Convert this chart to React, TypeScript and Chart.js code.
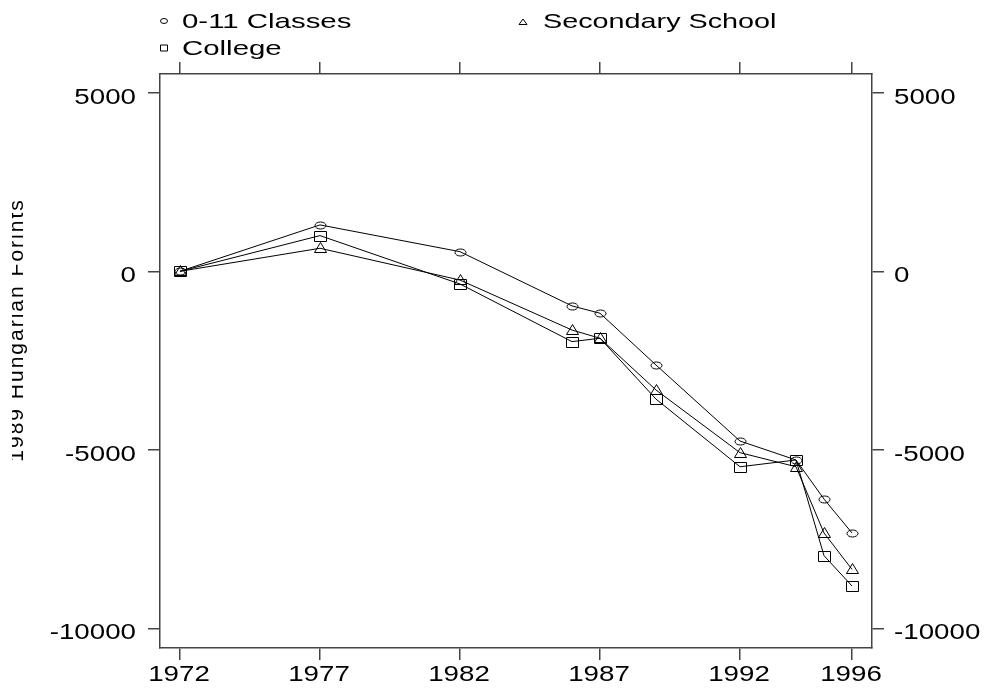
import React, { useEffect, useRef } from 'react';
import { Chart, registerables } from 'chart.js';

Chart.register(...registerables);

// ---- data ----
const YEARS = [1972, 1977, 1982, 1986, 1987, 1989, 1992, 1994, 1995, 1996];
const CLASSES_0_11 = [0, 1300, 550, -970, -1175, -2625, -4755, -5285, -6380, -7330];
const SECONDARY_SCHOOL = [0, 645, -245, -1645, -1875, -3325, -5080, -5475, -7330, -8350];
const COLLEGE = [0, 1000, -355, -1970, -1875, -3580, -5475, -5285, -7965, -8815];
const SERIES_NAMES = ['0-11 Classes', 'Secondary School', 'College'];
const SERIES_MARKERS = ['circle', 'triangle', 'square'];
const X_TICKS = [1972, 1977, 1982, 1987, 1992, 1996];
const Y_TICKS = [5000, 0, -5000, -10000];
const Y_TITLE = '1989 Hungarian Forints';

const FONT = '"Liberation Sans", Arial, Helvetica, sans-serif';
const AXIS_COLOR = '#444';
const STRETCH = 1.26;

function drawMarker(ctx: CanvasRenderingContext2D, kind: string, px: number, py: number) {
  const x = Math.round(px);
  const y = Math.round(py);
  ctx.beginPath();
  if (kind === 'circle') {
    ctx.ellipse(x + 0.5, y + 0.5, 5.5, 3.5, 0, 0, Math.PI * 2);
  } else if (kind === 'square') {
    ctx.rect(x - 5.5, y - 4.5, 12, 10);
  } else {
    ctx.moveTo(x + 0.5, y - 5.5);
    ctx.lineTo(x + 6.5, y + 4.5);
    ctx.lineTo(x - 5.5, y + 4.5);
    ctx.closePath();
  }
  ctx.stroke();
}

function drawLegendMarker(ctx: CanvasRenderingContext2D, kind: string, x: number, y: number) {
  ctx.beginPath();
  if (kind === 'circle') {
    ctx.ellipse(x, y, 3.5, 2.5, 0, 0, Math.PI * 2);
  } else if (kind === 'square') {
    ctx.rect(x - 3.5, y - 3, 7, 6);
  } else {
    ctx.moveTo(x, y - 3);
    ctx.lineTo(x + 4, y + 2.5);
    ctx.lineTo(x - 4, y + 2.5);
    ctx.closePath();
  }
  ctx.stroke();
}

// draws horizontally widened text; align: 'left' | 'right' | 'center'
function drawWideText(ctx: CanvasRenderingContext2D, text: string, x: number, y: number, align: string, k: number) {
  const w = ctx.measureText(text).width * k;
  let left = x;
  if (align === 'right') left = x - w;
  else if (align === 'center') left = x - w / 2;
  ctx.save();
  ctx.translate(left, y);
  ctx.scale(k, 1);
  ctx.textAlign = 'left';
  ctx.fillText(text, 0, 0);
  ctx.restore();
}

const overlayPlugin = {
  id: 'overlay',
  afterDatasetsDraw(chart: any) {
    const ctx: CanvasRenderingContext2D = chart.ctx;
    ctx.save();
    ctx.strokeStyle = '#000';
    ctx.lineWidth = 1;
    chart.data.datasets.forEach((_: any, i: number) => {
      const meta = chart.getDatasetMeta(i);
      meta.data.forEach((pt: any) => drawMarker(ctx, SERIES_MARKERS[i], pt.x, pt.y));
    });
    ctx.restore();
  },
  afterDraw(chart: any) {
    const ctx: CanvasRenderingContext2D = chart.ctx;
    ctx.save();
    ctx.fillStyle = '#000';
    ctx.strokeStyle = '#000';
    ctx.lineWidth = 1;
    ctx.textBaseline = 'alphabetic';

    // tick labels, placed through the chart's scales
    ctx.font = `22px ${FONT}`;
    const sx = chart.scales.x;
    sx.ticks.forEach((t: any) => {
      drawWideText(ctx, String(t.value), sx.getPixelForValue(t.value) - 1, 681, 'center', STRETCH);
    });
    const sy = chart.scales.y;
    sy.ticks.forEach((t: any) => {
      drawWideText(ctx, String(t.value), 136, sy.getPixelForValue(t.value) + 11, 'right', STRETCH);
    });
    const sy2 = chart.scales.y2;
    sy2.ticks.forEach((t: any) => {
      drawWideText(ctx, String(t.value), 894, sy2.getPixelForValue(t.value) + 11, 'left', STRETCH);
    });

    // legend
    ctx.font = `21px ${FONT}`;
    drawLegendMarker(ctx, SERIES_MARKERS[0], 164, 21);
    drawWideText(ctx, SERIES_NAMES[0], 182, 28, 'left', 1.4);
    drawLegendMarker(ctx, SERIES_MARKERS[1], 523, 22);
    drawWideText(ctx, SERIES_NAMES[1], 543, 28, 'left', 1.37);
    drawLegendMarker(ctx, SERIES_MARKERS[2], 164, 48);
    drawWideText(ctx, SERIES_NAMES[2], 182, 55, 'left', 1.4);

    // y axis title (clipped at the left edge as in the source)
    ctx.save();
    ctx.beginPath();
    ctx.rect(12, 0, 120, chart.height);
    ctx.clip();
    ctx.translate(23, 330);
    ctx.rotate(-Math.PI / 2);
    (ctx as any).letterSpacing = '2px';
    ctx.textAlign = 'center';
    ctx.fillText(Y_TITLE, 0, 0);
    ctx.restore();
    ctx.restore();
  },
};

export default function App() {
  const ref = useRef<HTMLCanvasElement | null>(null);

  useEffect(() => {
    if (!ref.current) return;
    const series = [
      { name: SERIES_NAMES[0], values: CLASSES_0_11 },
      { name: SERIES_NAMES[1], values: SECONDARY_SCHOOL },
      { name: SERIES_NAMES[2], values: COLLEGE },
    ];

    const xMin = 1971.286;
    const xMax = 1996.714;
    const yMin = -10552;
    const yMax = 5527;

    const tickFont = { family: FONT, size: 22 };
    const gridCfg = {
      drawOnChartArea: false,
      drawTicks: true,
      tickLength: 12,
      color: AXIS_COLOR,
      lineWidth: 1.5,
    };
    const borderCfg = { display: true, color: AXIS_COLOR, width: 1.5 };
    const hiddenTicks = {
      callback: (v: any) => String(v),
      font: tickFont,
      color: 'rgba(0,0,0,0)',
      maxRotation: 0,
      autoSkip: false,
    };

    const chart = new Chart(ref.current, {
      type: 'line',
      data: {
        datasets: series.map((s) => ({
          label: s.name,
          data: YEARS.map((yr, i) => ({ x: yr, y: s.values[i] })),
          borderColor: '#000',
          borderWidth: 1,
          backgroundColor: 'transparent',
          pointRadius: 0,
          pointHoverRadius: 0,
          fill: false,
          tension: 0,
        })),
      },
      options: {
        animation: false,
        responsive: false,
        events: [],
        layout: { padding: 0 },
        plugins: {
          legend: { display: false },
          tooltip: { enabled: false },
          title: { display: false },
        },
        scales: {
          x: {
            type: 'linear',
            position: 'bottom',
            min: xMin,
            max: xMax,
            afterBuildTicks: (s: any) => {
              s.ticks = X_TICKS.map((v) => ({ value: v }));
            },
            afterFit: (s: any) => {
              s.height = 41;
            },
            ticks: hiddenTicks,
            grid: gridCfg,
            border: borderCfg,
          },
          x2: {
            type: 'linear',
            position: 'top',
            min: xMin,
            max: xMax,
            afterBuildTicks: (s: any) => {
              s.ticks = X_TICKS.map((v) => ({ value: v }));
            },
            afterFit: (s: any) => {
              s.height = 74;
            },
            ticks: hiddenTicks,
            grid: gridCfg,
            border: borderCfg,
          },
          y: {
            type: 'linear',
            position: 'left',
            min: yMin,
            max: yMax,
            afterBuildTicks: (s: any) => {
              s.ticks = Y_TICKS.map((v) => ({ value: v }));
            },
            afterFit: (s: any) => {
              s.width = 160;
            },
            ticks: hiddenTicks,
            grid: gridCfg,
            border: borderCfg,
          },
          y2: {
            type: 'linear',
            position: 'right',
            min: yMin,
            max: yMax,
            afterBuildTicks: (s: any) => {
              s.ticks = Y_TICKS.map((v) => ({ value: v }));
            },
            afterFit: (s: any) => {
              s.width = 113;
            },
            ticks: hiddenTicks,
            grid: gridCfg,
            border: borderCfg,
          },
        },
      } as any,
      plugins: [overlayPlugin],
    });

    return () => {
      chart.destroy();
    };
  }, []);

  return (
    <div style={{ position: 'absolute', left: 0, top: 0, width: 985, height: 689, background: '#fff' }}>
      <canvas ref={ref} width={985} height={689} style={{ display: 'block' }} />
    </div>
  );
}
